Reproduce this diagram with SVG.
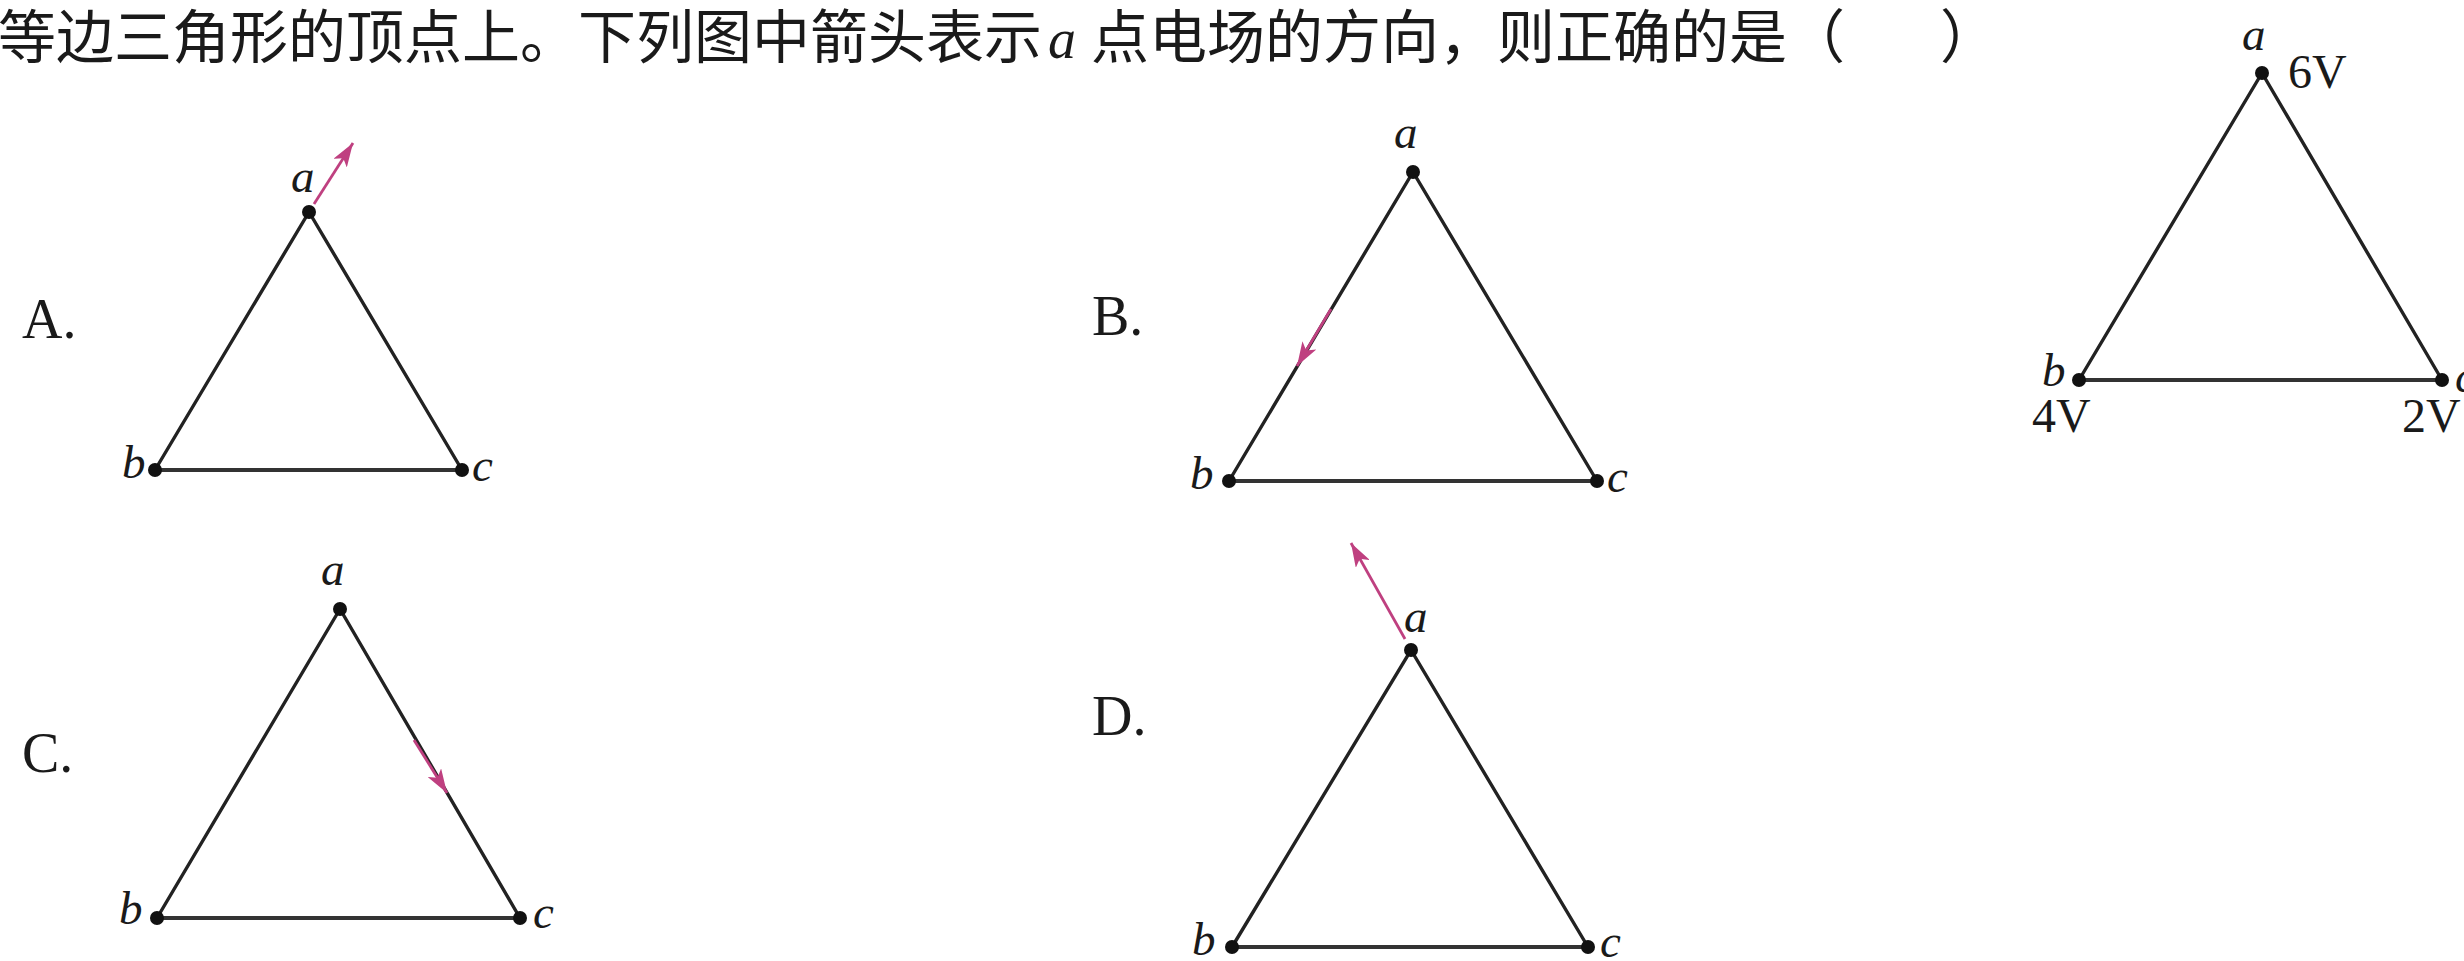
<svg xmlns="http://www.w3.org/2000/svg" width="2464" height="961" viewBox="0 0 2464 961">
<style>
.cjk{font-family:"Noto Sans CJK SC","Noto Sans CJK JP",sans-serif;font-size:58px;fill:#1a1a1a}
.opt{font-family:"Liberation Serif",serif;font-size:56px;fill:#1a1a1a}
.v{font-family:"Liberation Serif",serif;font-style:italic;font-size:47px;fill:#1a1a1a}
.volt{font-family:"Liberation Serif",serif;font-size:48px;fill:#1a1a1a}
.side{stroke:#222;stroke-width:3.4;fill:none;stroke-linecap:round}
.base{stroke:#333;stroke-width:4;fill:none}
.dot{fill:#111}
.arr{stroke:#bf4080;stroke-width:2.8;fill:none}
</style>
<defs>
<marker id="ah" viewBox="0 0 24 16" refX="24" refY="8" markerWidth="24" markerHeight="16" markerUnits="userSpaceOnUse" orient="auto">
<path d="M0,0 L24,8 L0,16 L6,8 Z" fill="#bf4080"/>
</marker>
</defs>
<rect width="2464" height="961" fill="#ffffff"/>

<g id="title">
<text class="cjk" x="-2" y="58">等边三角形的顶点上。下列图中箭头表示</text>
<text class="v" x="1048" y="58" style="font-size:56px">a</text>
<text class="cjk" x="1091" y="58">点电场的方向，则正确的是（</text>
<text class="cjk" x="1940" y="58">）</text>
</g>

<g id="option-A">
<text class="opt" x="22" y="338">A.</text>
<path class="side" d="M155,470 L309,212 L462,470"/>
<path class="base" d="M155,470 L462,470"/>
<circle class="dot" cx="309" cy="212" r="7"/>
<circle class="dot" cx="155" cy="470" r="7"/>
<circle class="dot" cx="462" cy="470" r="7"/>
<text class="v" x="291" y="192">a</text>
<text class="v" x="122" y="478">b</text>
<text class="v" x="472" y="481">c</text>
</g>

<g id="option-B">
<text class="opt" x="1092" y="335">B.</text>
<path class="side" d="M1229,481 L1413,172 L1597,481"/>
<path class="base" d="M1229,481 L1597,481"/>
<circle class="dot" cx="1413" cy="172" r="7"/>
<circle class="dot" cx="1229" cy="481" r="7"/>
<circle class="dot" cx="1597" cy="481" r="7"/>
<text class="v" x="1394" y="148">a</text>
<text class="v" x="1190" y="489">b</text>
<text class="v" x="1607" y="492">c</text>
</g>

<g id="option-C">
<text class="opt" x="22" y="772">C.</text>
<path class="side" d="M157,918 L340,609 L520,918"/>
<path class="base" d="M157,918 L520,918"/>
<circle class="dot" cx="340" cy="609" r="7"/>
<circle class="dot" cx="157" cy="918" r="7"/>
<circle class="dot" cx="520" cy="918" r="7"/>
<text class="v" x="321" y="585">a</text>
<text class="v" x="119" y="924">b</text>
<text class="v" x="533" y="928">c</text>
</g>

<g id="option-D">
<text class="opt" x="1092" y="735">D.</text>
<path class="side" d="M1232,947 L1411,650 L1588,947"/>
<path class="base" d="M1232,947 L1588,947"/>
<circle class="dot" cx="1411" cy="650" r="7"/>
<circle class="dot" cx="1232" cy="947" r="7"/>
<circle class="dot" cx="1588" cy="947" r="7"/>
<text class="v" x="1404" y="632">a</text>
<text class="v" x="1192" y="955">b</text>
<text class="v" x="1600" y="957">c</text>
</g>

<g id="given-figure">
<path class="side" d="M2079,380 L2262,73 L2442,380"/>
<path class="base" d="M2079,380 L2442,380"/>
<circle class="dot" cx="2262" cy="73" r="7"/>
<circle class="dot" cx="2079" cy="380" r="7"/>
<circle class="dot" cx="2442" cy="380" r="7"/>
<text class="v" x="2242" y="50">a</text>
<text class="volt" x="2288" y="88">6V</text>
<text class="v" x="2042" y="386">b</text>
<text class="volt" x="2032" y="432">4V</text>
<text class="v" x="2455" y="392">c</text>
<text class="volt" x="2402" y="432">2V</text>
</g>

<g id="connectors">
<line class="arr" x1="314" y1="204" x2="353" y2="143" marker-end="url(#ah)"/>
<line class="arr" x1="1331" y1="309" x2="1297" y2="366" marker-end="url(#ah)"/>
<line class="arr" x1="414" y1="740" x2="447" y2="793" marker-end="url(#ah)"/>
<line class="arr" x1="1405" y1="639" x2="1351" y2="543" marker-end="url(#ah)"/>
</g>
</svg>
